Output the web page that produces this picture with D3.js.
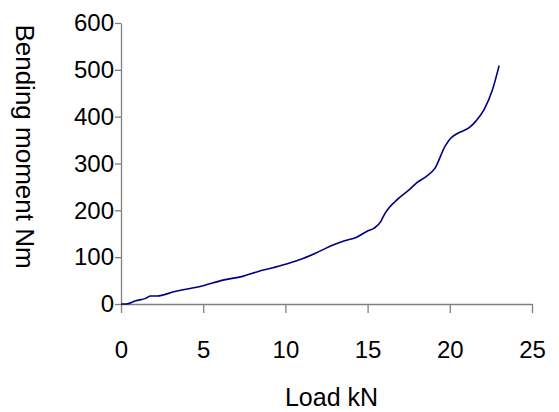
<!DOCTYPE html>
<html>
<head>
<meta charset="utf-8">
<script src="https://cdn.jsdelivr.net/npm/d3@7"></script>
<style>
  body { margin: 0; background: #fff; }
  text { font-family: "Liberation Sans", Arial, sans-serif; fill: #000; }
</style>
</head>
<body>
<div id="chart"></div>
<script>
// data
var loadKN = [0, 0.3, 0.9, 1.5, 1.8, 2.2, 3.2, 5.0, 6.2, 7.4, 8.3, 9.3, 10.3, 10.9, 11.8,
  12.9, 13.6, 14.3, 15.0, 15.4, 15.8, 16.0, 16.9, 17.5, 18.0, 18.6, 19.1, 19.7, 20.0,
  20.4, 21.2, 21.6, 22.1, 22.6, 23.0];
var momentNm = [0, 0, 7, 12, 17, 17, 26, 39, 51, 59, 69, 78, 88, 95, 108,
  126, 135, 142, 156, 162, 176, 190, 226, 243, 259, 273, 290, 336, 352,
  363, 377, 391, 416, 458, 509];
var xTicks = [0, 5, 10, 15, 20, 25];
var yTicks = [0, 100, 200, 300, 400, 500, 600];

function drawChart() {
	var width = 559, height = 412;
	var plotLeft = 121, plotRight = 532, plotTop = 23, plotBottom = 304;

	var svg = d3.select("#chart").append("svg")
		.attr("width", width).attr("height", height);

	var x = d3.scaleLinear().domain([0, 25]).range([plotLeft, plotRight]);
	var y = d3.scaleLinear().domain([0, 600]).range([plotBottom, plotTop]);

	// y axis
	var gy = svg.append("g").attr("transform", "translate(" + plotLeft + ",0)")
		.call(d3.axisLeft(y).tickValues(yTicks).tickSize(6).tickPadding(1).tickSizeOuter(0));
	// x axis
	var gx = svg.append("g").attr("transform", "translate(0," + plotBottom + ")")
		.call(d3.axisBottom(x).tickValues(xTicks).tickSize(9).tickPadding(28).tickSizeOuter(0));

	[gy, gx].forEach(function(g) {
		g.select(".domain").attr("stroke", "#808080").attr("stroke-width", 1.3);
		g.selectAll(".tick line").attr("stroke", "#808080").attr("stroke-width", 1.3);
		g.selectAll(".tick text").attr("font-size", 24)
			.attr("font-family", "Liberation Sans, Arial, sans-serif").attr("fill", "#000");
	});

	// curve
	var pts = loadKN.map(function(d, i) { return [d, momentNm[i]]; });
	svg.append("path").datum(pts)
		.attr("fill", "none").attr("stroke", "#000080").attr("stroke-width", 1.6)
		.attr("d", d3.line()
			.x(function(d) { return x(d[0]); })
			.y(function(d) { return y(d[1]); })
			.curve(d3.curveMonotoneX));

	// axis titles
	svg.append("text").attr("x", (plotLeft + plotRight) / 2 + 5).attr("y", 406)
		.attr("text-anchor", "middle").attr("font-size", 25).text("Load kN");
	svg.append("text").attr("transform", "translate(16,146.5) rotate(90)")
		.attr("text-anchor", "middle").attr("font-size", 26).text("Bending moment Nm");
}
drawChart();
</script>
</body>
</html>
